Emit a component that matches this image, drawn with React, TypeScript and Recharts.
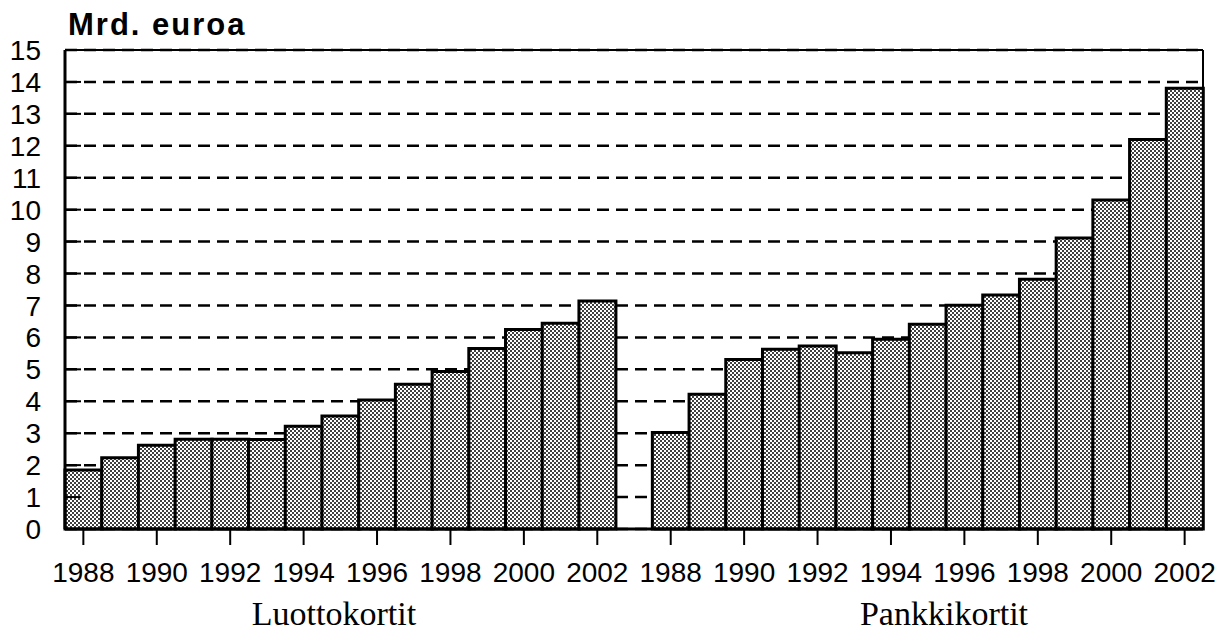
import React from "react";
import {
  BarChart,
  Bar,
  XAxis,
  YAxis,
  CartesianGrid,
  ReferenceLine,
} from "recharts";

// Vuodet ja arvot (mrd. euroa), luettu kuvasta
const years = [
  "1988", "1989", "1990", "1991", "1992", "1993", "1994", "1995",
  "1996", "1997", "1998", "1999", "2000", "2001", "2002",
];
const luottokortit = [1.85, 2.23, 2.62, 2.81, 2.81, 2.8, 3.22, 3.54, 4.04, 4.53, 4.93, 5.65, 6.25, 6.44, 7.14];
const pankkikortit = [3.02, 4.22, 5.31, 5.63, 5.73, 5.52, 5.94, 6.41, 7.01, 7.33, 7.82, 9.11, 10.3, 12.2, 13.8];
const yTicks = [0, 1, 2, 3, 4, 5, 6, 7, 8, 9, 10, 11, 12, 13, 14, 15];
const tickYears = ["1988", "1990", "1992", "1994", "1996", "1998", "2000", "2002"];
const groupLabels = ["Luottokortit", "Pankkikortit"];

type Row = { key: string; year: string; value: number | null };

const data: Row[] = [
  ...years.map((y, i) => ({ key: "L" + y, year: y, value: luottokortit[i] })),
  { key: "gap", year: "", value: null },
  ...years.map((y, i) => ({ key: "P" + y, year: y, value: pankkikortit[i] })),
];

const xTicks = [
  ...tickYears.map((y) => "L" + y),
  ...tickYears.map((y) => "P" + y),
];

const sans = "'Liberation Sans', Arial, Helvetica, sans-serif";
const serif = "'Liberation Serif', 'Times New Roman', serif";

const YTick = ({ x, y, payload }: any) => (
  <g>
    <line x1={x} x2={x + 16} y1={y} y2={y} stroke="#000" strokeWidth={2} />
    <text
      x={x - 24}
      y={y}
      dy="0.36em"
      textAnchor="end"
      fontSize={28}
      fontFamily={sans}
      fill="#000"
    >
      {payload.value}
    </text>
  </g>
);

export default function App() {
  return (
    <div
      style={{
        position: "absolute",
        left: 0,
        top: 0,
        width: 1220,
        height: 636,
        background: "#fff",
      }}
    >
      <svg width={0} height={0} style={{ position: "absolute" }}>
        <defs>
          <pattern id="dots" width={4} height={4} patternUnits="userSpaceOnUse">
            <rect width={4} height={4} fill="#fff" />
            <rect x={0} y={0} width={2} height={2} fill="#404040" />
            <rect x={2} y={2} width={2} height={2} fill="#404040" />
          </pattern>
        </defs>
      </svg>
      <BarChart
        width={1220}
        height={636}
        data={data}
        barCategoryGap={0}
        barGap={0}
        margin={{ top: 50, right: 16, bottom: 0, left: 0 }}
      >
        <CartesianGrid
          horizontal
          vertical={false}
          stroke="#000"
          strokeWidth={2.5}
          strokeDasharray="12 7"
        />
        <XAxis
          dataKey="key"
          ticks={xTicks}
          interval={0}
          tickFormatter={(k: string) => k.slice(1)}
          tickSize={16}
          tickMargin={17}
          tickLine={{ stroke: "#000", strokeWidth: 2 }}
          axisLine={{ stroke: "#000", strokeWidth: 3 }}
          tick={{ fontSize: 28, fontFamily: sans, fill: "#000" }}
          height={107}
        />
        <YAxis
          domain={[0, 15]}
          ticks={yTicks}
          interval={0}
          tickSize={0}
          tickMargin={0}
          tickLine={false}
          axisLine={{ stroke: "#000", strokeWidth: 3 }}
          tick={<YTick />}
          width={65}
        />
        <YAxis
          yAxisId="right"
          orientation="right"
          domain={[0, 15]}
          tick={false}
          tickLine={false}
          axisLine={{ stroke: "#000", strokeWidth: 2 }}
          width={1}
        />
        <ReferenceLine y={15} stroke="#000" strokeWidth={2} />
        <Bar
          dataKey="value"
          fill="url(#dots)"
          stroke="#000"
          strokeWidth={3}
          isAnimationActive={false}
        />
      </BarChart>
      <svg
        width={1220}
        height={636}
        style={{ position: "absolute", left: 0, top: 0, pointerEvents: "none" }}
      >
        <text
          x={68}
          y={35}
          fontSize={31}
          fontWeight="bold"
          fontFamily={sans}
          letterSpacing={2}
          fill="#000"
        >
          Mrd. euroa
        </text>
        <text x={334} y={625} textAnchor="middle" fontSize={34} fontFamily={serif} fill="#000">
          {groupLabels[0]}
        </text>
        <text x={944} y={625} textAnchor="middle" fontSize={34} fontFamily={serif} fill="#000">
          {groupLabels[1]}
        </text>
      </svg>
    </div>
  );
}
